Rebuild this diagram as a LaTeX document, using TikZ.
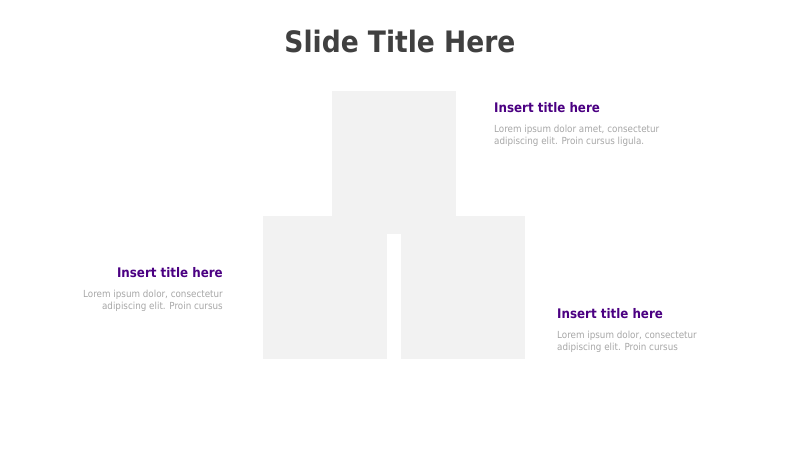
\documentclass[tikz,border=0pt]{standalone}
\usepackage{fontspec}
\setmainfont{DejaVu Sans Condensed}
\definecolor{boxgray}{HTML}{F2F2F2}
\definecolor{titlegray}{HTML}{404040}
\definecolor{headpurple}{HTML}{4B0082}
\definecolor{bodygray}{HTML}{A6A6A6}
\tikzset{
  blockbox/.style={fill=boxgray, draw=none},
  headtext/.style={inner sep=0pt, font=\bfseries\fontsize{13.2}{16}\selectfont, text=headpurple},
  bodytext/.style={inner sep=0pt, font=\fontsize{9.75}{12.5}\selectfont, text=bodygray},
}
\begin{document}
\begin{tikzpicture}[x=1pt,y=-1pt]
\useasboundingbox (0,0) rectangle (800,450);
% boxes
\fill[blockbox] (332,91) rectangle (456,234);
\fill[blockbox] (263,215.5) rectangle (387,359);
\fill[blockbox] (401,215.5) rectangle (525,359);
% title
\node[inner sep=0pt, anchor=base, font=\bfseries\fontsize{29.5}{36}\selectfont, text=titlegray] (title) at (400,52) {Slide Title Here};
% top right
\node[headtext, anchor=base west] (h1) at (494,112) {Insert title here};
\node[bodytext, anchor=base west] (b1a) at (494,132) {Lorem ipsum dolor amet, consectetur};
\node[bodytext, anchor=base west] (b1b) at (494,144.5) {adipiscing elit. Proin cursus ligula.};
% left
\node[headtext, anchor=base east] (h2) at (223,277) {Insert title here};
\node[bodytext, anchor=base east] (b2a) at (223,297) {Lorem ipsum dolor, consectetur};
\node[bodytext, anchor=base east] (b2b) at (223,309.5) {adipiscing elit. Proin cursus};
% right bottom
\node[headtext, anchor=base west] (h3) at (557,318) {Insert title here};
\node[bodytext, anchor=base west] (b3a) at (557,338) {Lorem ipsum dolor, consectetur};
\node[bodytext, anchor=base west] (b3b) at (557,350.5) {adipiscing elit. Proin cursus};
\end{tikzpicture}
\end{document}
